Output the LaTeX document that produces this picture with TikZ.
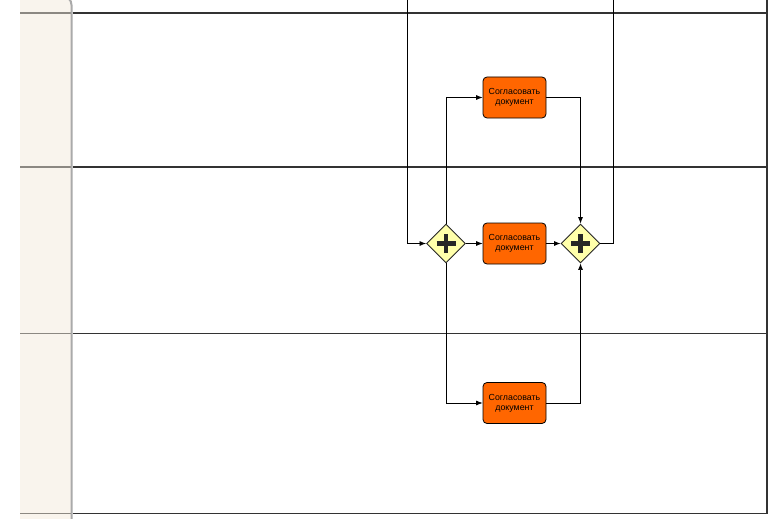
\documentclass[tikz,border=0pt]{standalone}
\usepackage{fontspec}
\setmainfont{Liberation Sans}
\usetikzlibrary{shapes.geometric,arrows.meta}

\definecolor{poolbeige}{RGB}{249,244,237}
\definecolor{laneline}{RGB}{51,51,51}
\definecolor{headline}{RGB}{140,136,130}
\definecolor{headedge}{RGB}{170,170,170}
\definecolor{taskfill}{RGB}{255,102,0}
\definecolor{gatefill}{RGB}{255,255,170}

\begin{document}
\begin{tikzpicture}[x=1pt,y=-1pt,
    every node/.style={font=\fontsize{8.8}{10}\selectfont},
    task/.style={draw=black, line width=0.8pt, fill=taskfill, rounded corners=4pt,
        minimum width=63pt, minimum height=41pt, inner sep=0pt, align=center},
    gate/.style={diamond, draw=black!85, line width=0.9pt, fill=gatefill,
        minimum width=39pt, minimum height=39pt, inner sep=0pt,
        path picture={
            \draw[line width=4.3pt] ([xshift=-9.5pt]path picture bounding box.center) -- ([xshift=9.5pt]path picture bounding box.center);
            \draw[line width=4.3pt] ([yshift=-9.5pt]path picture bounding box.center) -- ([yshift=9.5pt]path picture bounding box.center);
        }},
    flow/.style={line width=0.7pt, -{Latex[length=6.5pt,width=5pt]}},
    lane/.style={line width=1.3pt, draw=laneline}]
    \useasboundingbox (0,0) rectangle (769,519);
    % Pool and lanes
        \fill[white] (0,0) rectangle (769,519);
        \fill[poolbeige] (20,0) rectangle (71.5,519);
        \draw[headline, line width=1.3pt] (20,13) -- (71.5,13);
        \draw[headline, line width=1.3pt] (20,167) -- (71.5,167);
        \draw[headline, line width=1.3pt] (20,333.5) -- (71.5,333.5);
        \draw[headline, line width=1.3pt] (20,513.5) -- (71.5,513.5);
        \draw[headedge, line width=2pt, rounded corners=9pt] (71.5,519) -- (71.5,-4) -- (55,-4);
        \draw[lane] (72.5,13) -- (767,13);
        \draw[lane] (72.5,167) -- (767,167);
        \draw[lane] (72.5,333.5) -- (767,333.5);
        \draw[lane] (72.5,513.5) -- (767,513.5);
        \draw[lane] (767,0) -- (767,514.1);
    % Gateways and tasks
        \node[gate] (gwSplit) at (446,243.5) {};
        \node[gate] (gwJoin) at (580.5,243.5) {};
        \node[task] (taskTop) at (514.5,97.5) {Согласовать\\документ};
        \node[task] (taskMid) at (514.5,243.5) {Согласовать\\документ};
        \node[task] (taskBot) at (514.5,403) {Согласовать\\документ};
        \coordinate (inTop) at (407,0);
        \coordinate (outTop) at (613,0);
    % Sequence flows
        \draw[flow] (inTop) |- (gwSplit.west);
        \draw[flow] (gwSplit) -- (taskMid);
        \draw[flow] (taskMid) -- (gwJoin);
        \draw[flow] (gwSplit.north) |- (taskTop.west);
        \draw[flow] (taskTop.east) -| (gwJoin.north);
        \draw[flow] (gwSplit.south) |- (taskBot.west);
        \draw[flow] (taskBot.east) -| (gwJoin.south);
        \draw[line width=0.7pt] (gwJoin.east) -| (outTop);
\end{tikzpicture}
\end{document}
